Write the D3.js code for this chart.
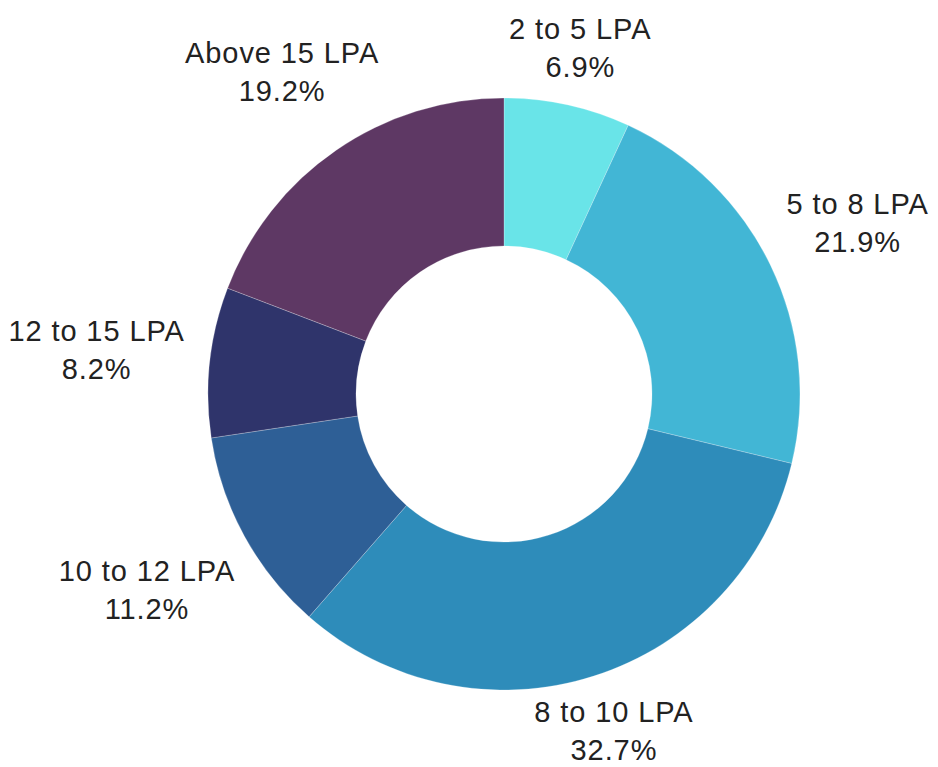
<!DOCTYPE html>
<html>
<head>
<meta charset="utf-8">
<script src="https://cdn.jsdelivr.net/npm/d3@7"></script>
<style>
  body { margin: 0; background: #fff; }
</style>
</head>
<body>
<script>
// salary bands and their share (%)
var categories = ["2 to 5 LPA", "5 to 8 LPA", "8 to 10 LPA", "10 to 12 LPA", "12 to 15 LPA", "Above 15 LPA"];
var shares = [6.9, 21.9, 32.7, 11.2, 8.2, 19.2];
var colors = ["#69e4e8", "#42b6d5", "#2e8cba", "#2e5f96", "#2f346b", "#5e3864"];

var width = 938, height = 767;
var cx = 504, cy = 394;
var outerR = 296, innerR = 148;

var svg = d3.select("body")
	.append("svg")
	.attr("width", width)
	.attr("height", height);

var g = svg.append("g").attr("transform", "translate(" + cx + "," + cy + ")");

var data = categories.map(function(c, i) { return {label: c, value: shares[i]}; });

var pie = d3.pie()
	.sort(null)
	.value(function(d) { return d.value; });

var arc = d3.arc()
	.innerRadius(innerR)
	.outerRadius(outerR);

var color = d3.scaleOrdinal().domain(categories).range(colors);

var arcs = pie(data);

// slices
g.selectAll("path")
	.data(arcs)
	.enter().append("path")
	.attr("d", arc)
	.attr("fill", function(d) { return color(d.data.label); })
	.attr("stroke", "#fff")
	.attr("stroke-opacity", 0.4)
	.attr("stroke-width", 0.6);

// labels, pushed out along mid angle so the text box sits just outside the ring
var lineGap = 38;
var labels = g.selectAll("g.lbl")
	.data(arcs)
	.enter().append("g")
	.attr("class", "lbl")
	.attr("font-family", "'Liberation Sans', Arial, sans-serif")
	.attr("font-size", 29)
	.attr("letter-spacing", 0.9)
	.attr("fill", "#222")
	.attr("text-anchor", "middle");

labels.append("text")
	.attr("y", -8.75)
	.text(function(d) { return d.data.label; });

labels.append("text")
	.attr("y", -8.75 + lineGap)
	.text(function(d) { return d.data.value.toFixed(1) + "%"; });

labels.attr("transform", function(d) {
	var a = (d.startAngle + d.endAngle) / 2;
	var s = Math.sin(a), c = Math.cos(a);
	var w = 0;
	d3.select(this).selectAll("text").each(function() {
		w = Math.max(w, this.getComputedTextLength());
	});
	var h = 40;
	var dist = outerR + 24 + Math.abs(s) * w / 2 + Math.abs(c) * h / 2;
	var x = s * dist, y = -c * dist;
	// keep the block inside the picture (room for descenders)
	var maxY = height - 7 - cy - (lineGap - 8.75);
	if (y > maxY) y = maxY;
	return "translate(" + x + "," + y + ")";
});
</script>
</body>
</html>
